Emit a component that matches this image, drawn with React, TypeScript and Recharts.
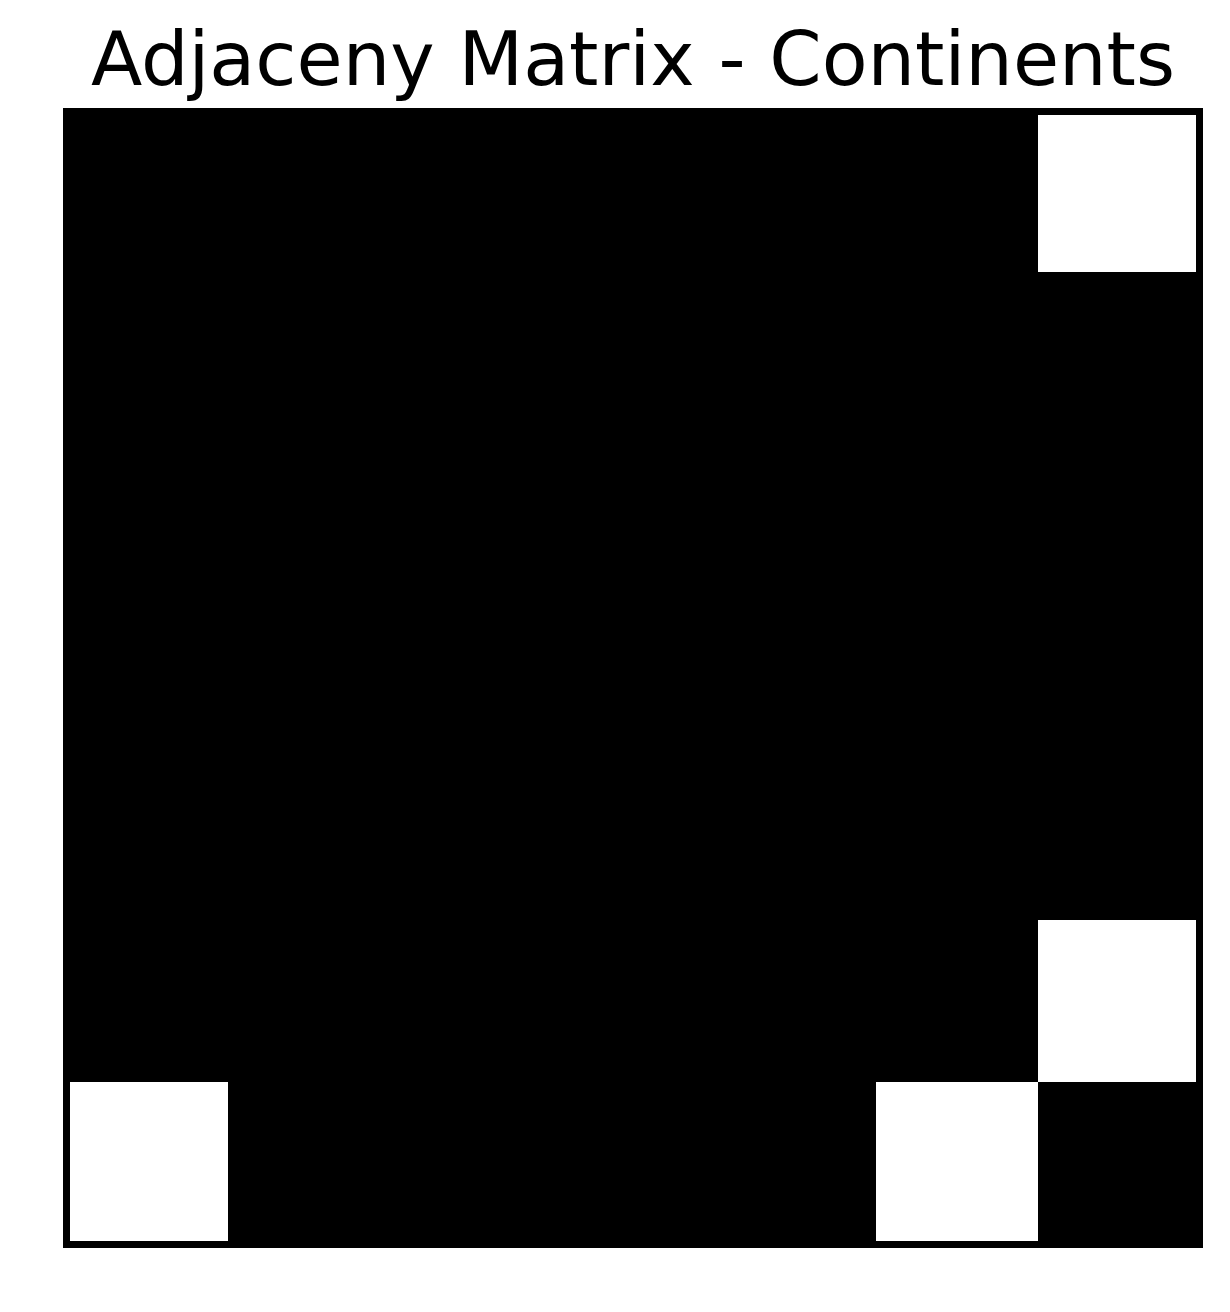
import React from 'react';
import { ScatterChart, Scatter, XAxis, YAxis } from 'recharts';

// adjacency rows (1 = connected, drawn white; 0 = drawn black)
const row0 = [0, 0, 0, 0, 0, 0, 1];
const row1 = [0, 0, 0, 0, 0, 0, 0];
const row2 = [0, 0, 0, 0, 0, 0, 0];
const row3 = [0, 0, 0, 0, 0, 0, 0];
const row4 = [0, 0, 0, 0, 0, 0, 0];
const row5 = [0, 0, 0, 0, 0, 0, 1];
const row6 = [1, 0, 0, 0, 0, 1, 0];
const rows = [row0, row1, row2, row3, row4, row5, row6];

const title = 'Adjaceny Matrix - Continents';

const cells = rows.flatMap((row, r) => row.map((v, c) => ({ col: c, row: r, value: v })));

const W = 1230;
const H = 1312;
const PLOT = 1134;
const N = rows.length;
const CELL = PLOT / N;

const CellShape = (props: any) => {
  const { cx, cy, payload } = props;
  return (
    <rect
      x={cx - CELL / 2}
      y={cy - CELL / 2}
      width={CELL}
      height={CELL}
      fill={payload.value ? '#ffffff' : '#000000'}
      shapeRendering="crispEdges"
    />
  );
};

const App: React.FC = () => {
  return (
    <div style={{ position: 'absolute', left: 0, top: 0, width: W, height: H, background: '#fff' }}>
      <div
        style={{
          position: 'absolute',
          left: 0,
          width: 1266,
          top: 16,
          textAlign: 'center',
          fontFamily: '"DejaVu Sans", sans-serif',
          fontSize: 75,
          lineHeight: '86px',
          color: '#000',
        }}
      >
        {title}
      </div>
      <ScatterChart width={W} height={H} margin={{ top: 110, left: 66, right: W - 66 - PLOT, bottom: H - 110 - PLOT }}>
        <XAxis type="number" dataKey="col" domain={[-0.5, N - 0.5]} hide />
        <YAxis type="number" dataKey="row" domain={[-0.5, N - 0.5]} reversed hide width={0} />
        <Scatter data={cells} shape={CellShape} isAnimationActive={false} />
      </ScatterChart>
      {/* axes frame drawn over the image */}
      <div
        style={{
          position: 'absolute',
          left: 63,
          top: 108,
          width: 1140,
          height: 1140,
          border: '7px solid #000',
          boxSizing: 'border-box',
          pointerEvents: 'none',
        }}
      />
    </div>
  );
};

export default App;
